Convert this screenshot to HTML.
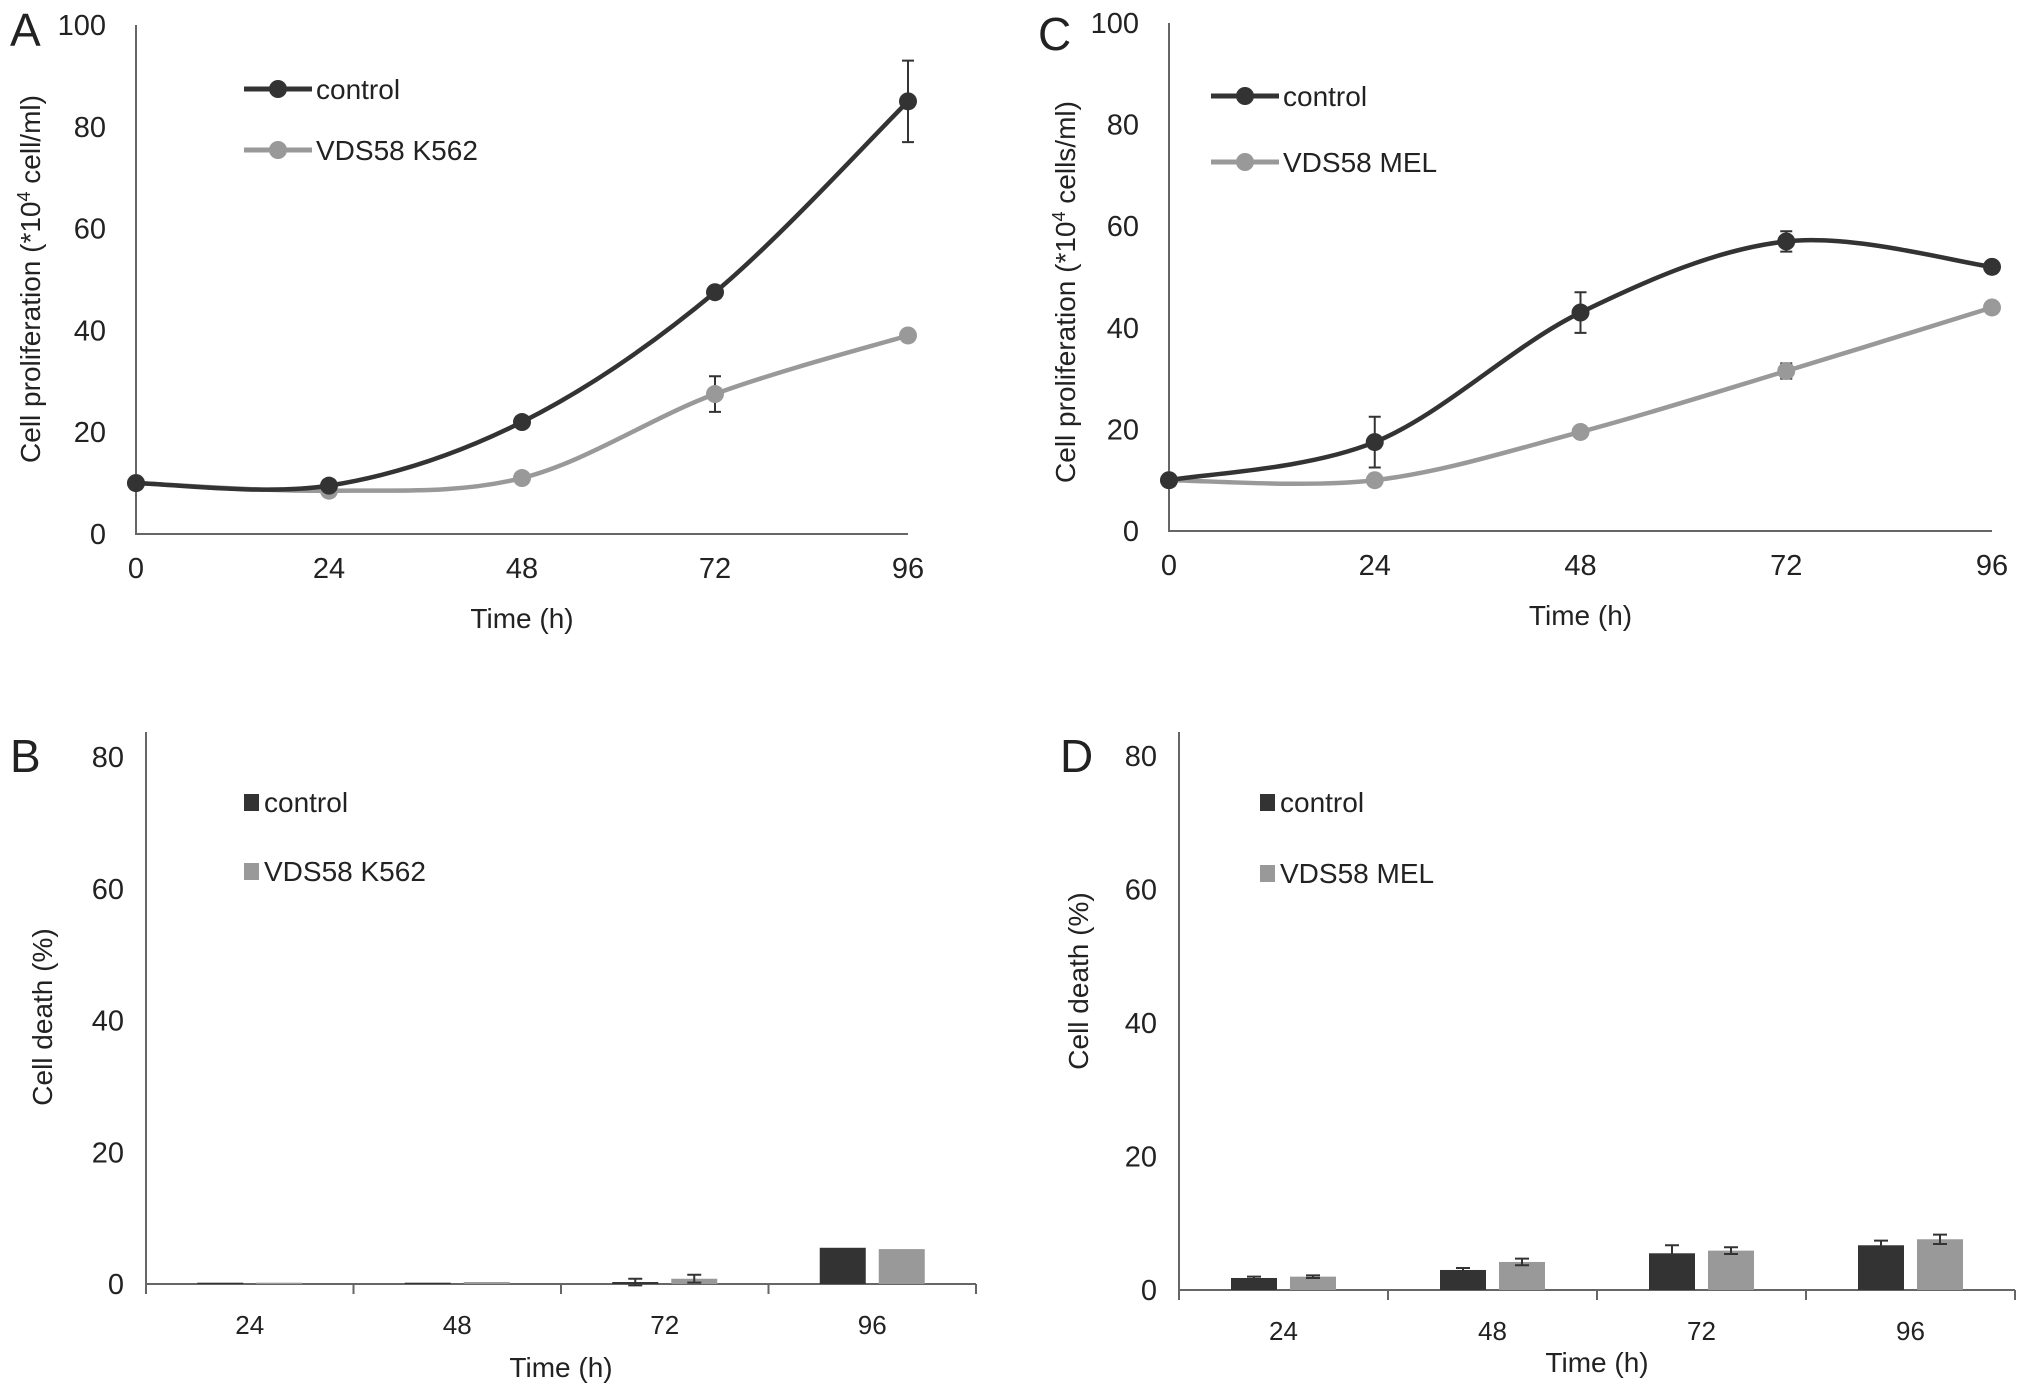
<!DOCTYPE html>
<html><head><meta charset="utf-8"><style>
html,body{margin:0;padding:0;background:#fff;}
svg{display:block;font-family:"Liberation Sans Narrow","Liberation Sans",sans-serif;}
</style></head><body>
<svg id="fig" width="2031" height="1398" viewBox="0 0 2031 1398" xmlns="http://www.w3.org/2000/svg"></svg>
<script>
// ---- data ----
const timesLine = [0, 24, 48, 72, 96];
const aControl = [10, 9.5, 22, 47.5, 85];
const aControlErr = [0.5, 0.5, 1, 1, 8];
const aVds = [10, 8.5, 11, 27.5, 39];
const aVdsErr = [0.5, 0.5, 1, 3.5, 1];
const cControl = [10, 17.5, 43, 57, 52];
const cControlErr = [0.5, 5, 4, 2, 1];
const cVds = [10, 10, 19.5, 31.5, 44];
const cVdsErr = [0.5, 0.5, 1, 1.5, 1];
const barCats = ["24", "48", "72", "96"];
const bControl = [0.2, 0.2, 0.3, 5.5];
const bControlErr = [0, 0, 0.5, 0];
const bVds = [0.2, 0.3, 0.8, 5.3];
const bVdsErr = [0, 0, 0.6, 0];
const dControl = [1.8, 3, 5.5, 6.7];
const dControlErr = [0.2, 0.3, 1.2, 0.7];
const dVds = [2, 4.2, 5.9, 7.6];
const dVdsErr = [0.2, 0.5, 0.5, 0.7];
const lineYTicks = [0, 20, 40, 60, 80, 100];
const barYTicks = [0, 20, 40, 60, 80];

const NS = "http://www.w3.org/2000/svg";
const svg = document.getElementById('fig');
const DARK = "#333", GRAY = "#999";
function mk(tag, attrs, parent, txt) {
  const e = document.createElementNS(NS, tag);
  for (const k in attrs) e.setAttribute(k, attrs[k]);
  if (txt !== undefined) e.textContent = txt;
  (parent || svg).appendChild(e);
  return e;
}
function txt(x, y, s, size, anchor, name, parent, extra) {
  const t = mk('text', Object.assign({x: x, y: y, 'font-size': size, 'text-anchor': anchor || 'middle', fill: '#222'}, extra || {}), parent, s);
  
  
  return t;
}
function smoothPath(pts) {
  let d = "M" + pts[0][0] + "," + pts[0][1];
  for (let i = 0; i < pts.length - 1; i++) {
    const p0 = pts[i - 1] || pts[i], p1 = pts[i], p2 = pts[i + 1], p3 = pts[i + 2] || p2;
    const t = 1 / 6;
    const c1 = [p1[0] + (p2[0] - p0[0]) * t, p1[1] + (p2[1] - p0[1]) * t];
    const c2 = [p2[0] - (p3[0] - p1[0]) * t, p2[1] - (p3[1] - p1[1]) * t];
    d += " C" + c1 + " " + c2 + " " + p2;
  }
  return d;
}
function lineChart(cfg) {
  const g = mk('g', {});
  
  
  const sx = v => cfg.x0 + (v - 0) / 96 * (cfg.x1 - cfg.x0);
  const sy = v => cfg.y0 - v / 100 * (cfg.y0 - cfg.y1);
  const ax = mk('path', {d: `M${cfg.x0},${cfg.y1} V${cfg.y0} H${cfg.x1}`, stroke: '#666', 'stroke-width': 2, fill: 'none'}, g);
  
  
  lineYTicks.forEach(v => txt(cfg.x0 - 30, sy(v) + 10, String(v), 29, 'end', 'y-tick-label', g));
  timesLine.forEach(v => txt(sx(v), cfg.y0 + 44, String(v), 29, 'middle', 'x-tick-label', g));
  txt((cfg.x0 + cfg.x1) / 2, cfg.y0 + 94, 'Time (h)', 28, 'middle', 'x-axis-title', g);
  const yt = txt(0, 0, '', 28, 'middle', 'y-axis-title', g, {transform: `translate(${cfg.ytx},${cfg.yty}) rotate(-90)`});
  yt.textContent = cfg.ytitle[0];
  const sup = mk('tspan', {'font-size': 18, dy: -10}, yt, '4');
  const rest = mk('tspan', {dy: 10}, yt, cfg.ytitle[1]);
  txt(cfg.lx, cfg.ly, cfg.letter, 46, 'start', 'panel-label', g, {'font-family': '"Liberation Sans",sans-serif'});
  [[cfg.vds, cfg.vdsErr, GRAY, 'series-vds'], [cfg.ctl, cfg.ctlErr, DARK, 'series-control']].forEach(([vals, errs, col, nm]) => {
    const pts = vals.map((v, i) => [sx(timesLine[i]), sy(v)]);
    const p = mk('path', {d: smoothPath(pts), stroke: col, 'stroke-width': 4.5, fill: 'none'}, g);
    
    
    vals.forEach((v, i) => {
      const x = sx(timesLine[i]);
      if (errs[i] > 1.2) {
        const e = mk('path', {d: `M${x},${sy(v + errs[i])} V${sy(v - errs[i])} M${x - 6},${sy(v + errs[i])} h12 M${x - 6},${sy(v - errs[i])} h12`, stroke: '#333', 'stroke-width': 2, fill: 'none'}, g);
        
        
      }
      const c = mk('circle', {cx: x, cy: sy(v), r: 9, fill: col}, g);
      
      
    });
  });
  [[DARK, 'control', cfg.legY1], [GRAY, cfg.vdsLabel, cfg.legY2]].forEach(([col, lab, y]) => {
    const l = mk('g', {}, g);
    
    
    mk('line', {x1: cfg.legX, x2: cfg.legX + 68, y1: y, y2: y, stroke: col, 'stroke-width': 5}, l);
    mk('circle', {cx: cfg.legX + 34, cy: y, r: 9, fill: col}, l);
    txt(cfg.legX + 72, y + 10, lab, 28, 'start', 'legend-label', l);
  });
}
function barChart(cfg) {
  const g = mk('g', {});
  
  
  const n = barCats.length, cw = (cfg.x1 - cfg.x0) / n;
  const sy = v => cfg.y0 - v / 80 * (cfg.y0 - cfg.y80);
  let d = `M${cfg.x0},${cfg.ytop} V${cfg.y0} H${cfg.x1}`;
  for (let i = 0; i <= n; i++) d += ` M${cfg.x0 + i * cw},${cfg.y0} v10`;
  const ax = mk('path', {d: d, stroke: '#666', 'stroke-width': 2, fill: 'none'}, g);
  
  
  barYTicks.forEach(v => txt(cfg.x0 - 22, sy(v) + 10, String(v), 29, 'end', 'y-tick-label', g));
  barCats.forEach((c, i) => txt(cfg.x0 + (i + 0.5) * cw, cfg.y0 + 50, c, 26, 'middle', 'x-tick-label', g));
  txt((cfg.x0 + cfg.x1) / 2, cfg.xty, 'Time (h)', 28, 'middle', 'x-axis-title', g);
  txt(0, 0, 'Cell death (%)', 28, 'middle', 'y-axis-title', g, {transform: `translate(${cfg.ytx},${cfg.yty}) rotate(-90)`});
  txt(cfg.lx, cfg.ly, cfg.letter, 46, 'start', 'panel-label', g, {'font-family': '"Liberation Sans",sans-serif'});
  const bw = 46, gap = 13;
  [[cfg.ctl, cfg.ctlErr, DARK, 'bar-control', -1], [cfg.vds, cfg.vdsErr, GRAY, 'bar-vds', 1]].forEach(([vals, errs, col, nm, side]) => {
    vals.forEach((v, i) => {
      const cx = cfg.x0 + (i + 0.5) * cw;
      const x = side < 0 ? cx - gap / 2 - bw : cx + gap / 2;
      const r = mk('rect', {x: x, y: sy(v), width: bw, height: cfg.y0 - sy(v), fill: col}, g);
      
      
      if (errs[i] > 0) {
        const mx = x + bw / 2;
        const e = mk('path', {d: `M${mx},${sy(v + errs[i])} V${sy(v - errs[i])} M${mx - 7},${sy(v + errs[i])} h14 M${mx - 7},${sy(v - errs[i])} h14`, stroke: '#333', 'stroke-width': 2, fill: 'none'}, g);
        
        
      }
    });
  });
  [[DARK, 'control', cfg.legY1], [GRAY, cfg.vdsLabel, cfg.legY2]].forEach(([col, lab, y]) => {
    const l = mk('g', {}, g);
    
    
    mk('rect', {x: cfg.legX, y: y - 8, width: 15, height: 17, fill: col}, l);
    txt(cfg.legX + 20, y + 10, lab, 28, 'start', 'legend-label', l);
  });
}
lineChart({name: 'chart-a', letter: 'A', lx: 10, ly: 46, x0: 136, x1: 908, y0: 534, y1: 25,
  ctl: aControl, ctlErr: aControlErr, vds: aVds, vdsErr: aVdsErr, vdsLabel: 'VDS58 K562',
  legX: 244, legY1: 89, legY2: 150, ytx: 40, yty: 279, ytitle: ['Cell proliferation (*10', ' cell/ml)']});
lineChart({name: 'chart-c', letter: 'C', lx: 1038, ly: 50, x0: 1169, x1: 1992, y0: 531, y1: 23,
  ctl: cControl, ctlErr: cControlErr, vds: cVds, vdsErr: cVdsErr, vdsLabel: 'VDS58 MEL',
  legX: 1211, legY1: 96, legY2: 162, ytx: 1075, yty: 292, ytitle: ['Cell proliferation (*10', ' cells/ml)']});
barChart({name: 'chart-b', letter: 'B', lx: 10, ly: 772, x0: 146, x1: 976, y0: 1284, y80: 757, ytop: 732,
  ctl: bControl, ctlErr: bControlErr, vds: bVds, vdsErr: bVdsErr, vdsLabel: 'VDS58 K562',
  legX: 244, legY1: 802, legY2: 871, ytx: 52, yty: 1017, xty: 1377});
barChart({name: 'chart-d', letter: 'D', lx: 1060, ly: 772, x0: 1179, x1: 2015, y0: 1290, y80: 756, ytop: 732,
  ctl: dControl, ctlErr: dControlErr, vds: dVds, vdsErr: dVdsErr, vdsLabel: 'VDS58 MEL',
  legX: 1260, legY1: 802, legY2: 873, ytx: 1088, yty: 981, xty: 1372});
</script>
</body></html>
